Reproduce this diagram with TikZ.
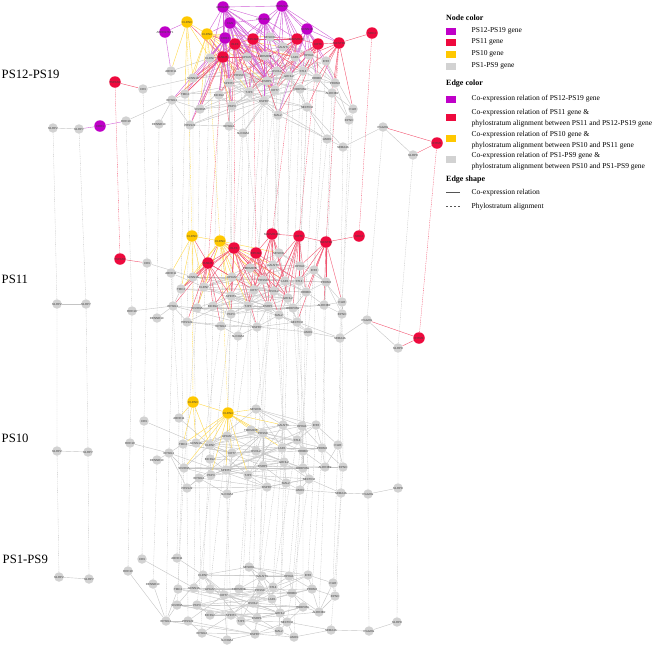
\documentclass[tikz,border=0pt]{standalone}
\usepackage{fontspec}
\setmainfont{Liberation Serif}
\newfontfamily\lblfont{Liberation Sans}
\usepackage{tikz}
\usetikzlibrary{backgrounds}
\definecolor{purpn}{HTML}{BF00C8}
\definecolor{redn}{HTML}{EE0A3E}
\definecolor{yelln}{HTML}{FFC800}
\definecolor{grayn}{HTML}{D2D2D2}
\definecolor{purpl}{HTML}{D060D6}
\definecolor{redl}{HTML}{F25470}
\definecolor{yelll}{HTML}{FFD84A}
\definecolor{grayl}{HTML}{C4C4C4}
\definecolor{legd}{HTML}{555555}
\tikzset{
  gn/.style={circle,fill=grayn,minimum size=9.5pt,inner sep=0pt,font=\lblfont\fontsize{2.9}{2.9}\selectfont,text=black!75},
  yn/.style={gn,fill=yelln,minimum size=11.5pt},
  rn/.style={gn,fill=redn,minimum size=11.5pt},
  pn/.style={gn,fill=purpn,minimum size=11.5pt},
  ge/.style={grayl,line width=0.4pt},
  ye/.style={yelll,line width=0.4pt},
  re/.style={redl,line width=0.4pt},
  pe/.style={purpl,line width=0.4pt},
  aln/.style={grayl,line width=0.35pt,dash pattern=on 1pt off 0.8pt},
  alny/.style={aln,yelll},
  alnr/.style={aln,redl},
  lay/.style={font=\fontsize{12.7}{14}\selectfont,anchor=west,inner sep=0pt},
  lg/.style={font=\fontsize{7.5}{11.5}\selectfont,anchor=west,inner sep=0pt,align=left},
  lgh/.style={anchor=west,inner sep=0pt,font=\fontsize{8}{10}\selectfont\bfseries},
  sw/.style={minimum width=10pt,minimum height=7pt,inner sep=0pt}
}
\newcommand{\nm}[1]{\makebox[0pt]{#1}}

\begin{document}
\begin{tikzpicture}[x=1pt,y=-1pt]
\useasboundingbox (0,0) rectangle (655,646);

% layer labels
\node[lay] (lab-d) at (1.5,74) {PS12-PS19};
\node[lay] (lab-c) at (1.5,279) {PS11};
\node[lay] (lab-b) at (1.5,438) {PS10};
\node[lay] (lab-a) at (2.5,559) {PS1-PS9};

% PS1-PS9
\foreach \n/\x/\y in {NLRP2/59/577, NLRP7/89/579, RDH10/128/571, CD9/142/559, ABHD11/177/558,
  DENND1C/153/584, EPS8L1/166/621, TMC4/178/589, SH2D3A/177/605, SCNN1A/194/588, CLDN7/203/575,
  AP1M2/210/589, PRSS22/188/621, PKP3/197/605, EPS8L2/202/633, BICDL2/210/615, KRT7/224/595,
  SPINT1/231/615, TMEM30B/239/589, MFSD6L/249/567, TJP3/241/621, SLC39A4/227/640, PRSS8/260/590,
  OVOL2/253/603, ESRP1/257/618, BSPRY/255/634, GALNT3/262/576, LAD1/272/599, ST14/273/587,
  GRHL2/280/613, MAL2/279/631, EPHA1/289/576, ERBB3/292/593, RBBP8NL/303/607, NECTIN4/287/622,
  ANO9/294/637, IRF6/308/575, PROM2/312/589, ALDH3B2/319/612, F11R/333/583, EPN3/335/596,
  SEMA4A/331/630, PGGHG/369/631, NLRP8/397/622}
  \node[gn] (a-\n) at (\x,\y) {\nm{\n}};

% PS10
\foreach \n/\x/\y in {NLRP2/57/451, NLRP7/88/452, RDH10/130/443, CD9/144/421, ABHD11/179/418,
  DENND1C/157/460, EPS8L1/169/453, TMC4/183/444, SH2D3A/184/468, SCNN1A/196/443, CLDN7/210/445,
  AP1M2/227/436, PRSS22/187/488, PKP3/211/475, EPS8L2/199/478, BICDL2/210/459, KRT7/232/453,
  SPINT1/226/470, TMEM30B/251/430, MFSD6L/256/409, TJP3/248/475, SLC39A4/227/494, PRSS8/263/433,
  OVOL2/256/451, ESRP1/263/466, BSPRY/267/487, GALNT3/283/425, LAD1/282/448, ST14/297/440,
  GRHL2/284/462, MAL2/286/483, EPHA1/302/426, ERBB3/303/451, RBBP8NL/303/468, NECTIN4/309/479,
  ANO9/300/490, IRF6/316/425, PROM2/322/448, ALDH3B2/325/467, F11R/338/445, EPN3/343/467,
  SEMA4A/341/493, PGGHG/368/494, NLRP8/398/488}
  \node[gn] (b-\n) at (\x,\y) {\nm{\n}};
\node[yn] (b-CLDN3) at (193,402) {\nm{CLDN3}};
\node[yn] (b-CLDN4) at (228,413) {\nm{CLDN4}};

% PS11
\foreach \n/\x/\y in {NLRP2/57/304, NLRP7/86/304, RDH10/132/311, CD9/147/263, ABHD11/171/273,
  DENND1C/157/318, EPS8L1/173/306, TMC4/181/289, SH2D3A/197/308, SCNN1A/193/277, CLDN7/204/287,
  AP1M2/232/277, PRSS22/187/322, PKP3/231/314, EPS8L2/221/326, BICDL2/213/306, KRT7/254/290,
  SPINT1/231/296, TMEM30B/250/268, MFSD6L/279/253, TJP3/248/306, SLC39A4/238/336, PRSS8/263/280,
  OVOL2/274/291, ESRP1/268/306, BSPRY/257/327, GALNT3/273/265, LAD1/285/281, ST14/299/281,
  GRHL2/288/298, MAL2/279/315, EPHA1/300/266, ERBB3/306/292, RBBP8NL/293/308, NECTIN4/297/322,
  ANO9/308/332, IRF6/314/270, PROM2/326/282, ALDH3B2/324/305, F11R/342/302, EPN3/342/314,
  SEMA4A/340/338, PGGHG/367/320, NLRP8/398/348}
  \node[gn] (c-\n) at (\x,\y) {\nm{\n}};
\node[yn] (c-CLDN3) at (192,236) {\nm{CLDN3}};
\node[yn] (c-CLDN4) at (220,241) {\nm{CLDN4}};
\foreach \n/\x/\y in {ELF3/234/248, EPCAM/256/253, MARVELD3/272/234, KRT8/299/236, TACSTD2/326/242,
  SDC4/359/236, TSPAN1/120/259, RAB25/208/263, IFITM1/419/338}
  \node[rn] (c-\n) at (\x,\y) {\nm{\n}};

% PS12-PS19
\foreach \n/\x/\y in {NLRP2/53/128, NLRP7/79/129, RDH10/126/121, CD9/143/89, ABHD11/171/71,
  DENND1C/159/124, EPS8L1/172/100, TMC4/185/94, SH2D3A/200/109, SCNN1A/193/78, CLDN7/210/58,
  AP1M2/247/57, PRSS22/190/125, PKP3/232/106, EPS8L2/229/126, BICDL2/219/95, KRT7/275/90,
  SPINT1/229/83, TMEM30B/265/56, MFSD6L/270/37, TJP3/249/92, SLC39A4/243/133, PRSS8/239/75,
  OVOL2/277/71, ESRP1/267/81, BSPRY/264/101, GALNT3/283/47, LAD1/295/57, ST14/303/71,
  GRHL2/289/76, MAL2/278/115, EPHA1/309/55, ERBB3/317/78, RBBP8NL/300/89, NECTIN4/307/107,
  ANO9/327/139, IRF6/326/61, PROM2/335/83, ALDH3B2/332/93, F11R/353/109, EPN3/349/120,
  SEMA4A/343/147, PGGHG/383/127, NLRP8/413/155}
  \node[gn] (d-\n) at (\x,\y) {\nm{\n}};
\node[yn] (d-CLDN3) at (187,22) {\nm{CLDN3}};
\node[yn] (d-CLDN4) at (207,34) {\nm{CLDN4}};
\foreach \n/\x/\y in {ELF3/235/44, EPCAM/253/39, MARVELD3/297/39, KRT8/318/44, TACSTD2/339/43,
  SDC4/372/33, TSPAN1/115/82, RAB25/223/57, IFITM1/437/143}
  \node[rn] (d-\n) at (\x,\y) {\nm{\n}};
\foreach \n/\x/\y in {ARHGAP8/223/7, TMEM125/282/6, CGN/230/23, PPP1R14C/264/19, ABHD17AP1/165/32,
  CRB3/225/38, SCNN1B/307/29, CDH1/100/126}
  \node[pn] (d-\n) at (\x,\y) {\nm{\n}};

\begin{scope}[on background layer]
% phylostratum alignment
\foreach \g in {NLRP2,NLRP7,RDH10,CD9,ABHD11,DENND1C,EPS8L1,TMC4,SH2D3A,SCNN1A,CLDN7,AP1M2,
  PRSS22,PKP3,EPS8L2,BICDL2,KRT7,SPINT1,TMEM30B,MFSD6L,TJP3,SLC39A4,PRSS8,OVOL2,ESRP1,BSPRY,
  GALNT3,LAD1,ST14,GRHL2,MAL2,EPHA1,ERBB3,RBBP8NL,NECTIN4,ANO9,IRF6,PROM2,ALDH3B2,F11R,EPN3,
  SEMA4A,PGGHG,NLRP8}
  \draw[aln] (a-\g) -- (b-\g) -- (c-\g) -- (d-\g);
\foreach \g in {CLDN3,CLDN4}
  \draw[alny] (b-\g) -- (c-\g) -- (d-\g);
\foreach \g in {ELF3,EPCAM,MARVELD3,KRT8,TACSTD2,SDC4,TSPAN1,RAB25,IFITM1}
  \draw[alnr] (c-\g) -- (d-\g);

% co-expression, PS1-PS9 genes
\foreach \l in {a,b,c,d}{
\foreach \u/\v in {NLRP2/NLRP7, RDH10/EPS8L1, CD9/SCNN1A, ABHD11/CLDN7, DENND1C/EPS8L1,
  EPS8L1/TMC4, EPS8L1/SH2D3A, EPS8L1/PRSS22, EPS8L1/BSPRY, TMC4/SCNN1A, TMC4/KRT7, TMC4/GRHL2,
  SH2D3A/PKP3, SH2D3A/SPINT1, SH2D3A/ESRP1, SH2D3A/CLDN7, SCNN1A/AP1M2, SCNN1A/PRSS8,
  SCNN1A/OVOL2, SCNN1A/LAD1, CLDN7/AP1M2, CLDN7/MFSD6L, CLDN7/GALNT3, CLDN7/EPHA1, CLDN7/KRT7,
  CLDN7/ESRP1, CLDN7/TJP3, AP1M2/TMEM30B, AP1M2/KRT7, AP1M2/ST14, AP1M2/GRHL2, PRSS22/EPS8L2,
  PRSS22/BSPRY, PRSS22/KRT7, PKP3/BICDL2, PKP3/ESRP1, PKP3/LAD1, PKP3/RBBP8NL, EPS8L2/BSPRY,
  EPS8L2/SPINT1, BICDL2/SPINT1, BICDL2/OVOL2, BICDL2/GRHL2, KRT7/OVOL2, KRT7/PRSS8, KRT7/LAD1,
  KRT7/ERBB3, SPINT1/TJP3, SPINT1/ESRP1, SPINT1/ST14, SPINT1/PRSS8, SPINT1/GRHL2, SPINT1/MAL2,
  TMEM30B/PRSS8, TMEM30B/GALNT3, TMEM30B/ERBB3, MFSD6L/GALNT3, MFSD6L/EPHA1, MFSD6L/IRF6,
  MFSD6L/LAD1, TJP3/ESRP1, TJP3/BSPRY, TJP3/NECTIN4, PRSS8/ST14, PRSS8/OVOL2, PRSS8/ESRP1,
  PRSS8/PROM2, OVOL2/LAD1, OVOL2/GRHL2, OVOL2/RBBP8NL, OVOL2/IRF6, ESRP1/GRHL2, ESRP1/MAL2,
  ESRP1/BSPRY, ESRP1/RBBP8NL, ESRP1/ALDH3B2, BSPRY/MAL2, BSPRY/NECTIN4, BSPRY/ANO9,
  GALNT3/EPHA1, GALNT3/ST14, GALNT3/LAD1, LAD1/ST14, LAD1/ERBB3, LAD1/GRHL2, LAD1/PROM2,
  ST14/ERBB3, ST14/IRF6, ST14/EPHA1, GRHL2/RBBP8NL, GRHL2/NECTIN4, GRHL2/MAL2, MAL2/NECTIN4,
  MAL2/ANO9, EPHA1/IRF6, EPHA1/ERBB3, EPHA1/PROM2, ERBB3/RBBP8NL, ERBB3/PROM2, ERBB3/ALDH3B2,
  RBBP8NL/NECTIN4, RBBP8NL/ALDH3B2, NECTIN4/ANO9, NECTIN4/SEMA4A, IRF6/PROM2, IRF6/F11R,
  PROM2/ALDH3B2, PROM2/EPN3, ALDH3B2/F11R, ALDH3B2/EPN3, F11R/EPN3, ANO9/SEMA4A, SEMA4A/PGGHG,
  PGGHG/NLRP8, SLC39A4/BSPRY, SLC39A4/EPS8L2, SLC39A4/KRT7, TJP3/GALNT3, PKP3/ST14,
  SH2D3A/RBBP8NL}
  \draw[ge] (\l-\u) -- (\l-\v);
}

% co-expression, PS10 genes
\foreach \l in {b,c,d}{
\foreach \u/\v in {CLDN3/CLDN4, CLDN3/ABHD11, CLDN3/SCNN1A, CLDN3/TMC4, CLDN3/CLDN7,
  CLDN4/MFSD6L, CLDN4/AP1M2, CLDN4/SCNN1A, CLDN4/TMC4, CLDN4/KRT7, CLDN4/PRSS8, CLDN4/TMEM30B,
  CLDN4/SPINT1, CLDN4/GALNT3, CLDN4/CLDN7, CLDN4/SH2D3A, CLDN4/PKP3, CLDN4/TJP3, CLDN4/LAD1}
  \draw[ye] (\l-\u) -- (\l-\v);
}

% co-expression, PS11 genes
\foreach \l in {c,d}{
\foreach \u/\v in {ELF3/CLDN7, ELF3/AP1M2, ELF3/KRT7, ELF3/SPINT1, ELF3/TJP3, ELF3/ESRP1,
  ELF3/PRSS8, ELF3/OVOL2, ELF3/GRHL2, ELF3/LAD1, ELF3/SCNN1A, ELF3/TMC4, ELF3/EPCAM, ELF3/RAB25,
  ELF3/BSPRY, ELF3/PKP3, ELF3/CLDN4, EPCAM/TMEM30B, EPCAM/PRSS8, EPCAM/KRT7, EPCAM/ESRP1,
  EPCAM/GRHL2, EPCAM/OVOL2, EPCAM/SPINT1, EPCAM/ST14, EPCAM/MAL2, EPCAM/MARVELD3, EPCAM/TJP3,
  EPCAM/BICDL2, MARVELD3/MFSD6L, MARVELD3/GALNT3, MARVELD3/ESRP1, MARVELD3/TJP3, MARVELD3/OVOL2,
  MARVELD3/PRSS8, MARVELD3/LAD1, MARVELD3/KRT8, MARVELD3/KRT7, MARVELD3/GRHL2, KRT8/EPHA1,
  KRT8/LAD1, KRT8/ST14, KRT8/ERBB3, KRT8/KRT7, KRT8/GRHL2, KRT8/OVOL2, KRT8/TACSTD2,
  KRT8/RBBP8NL, KRT8/ESRP1, KRT8/MAL2, TACSTD2/PROM2, TACSTD2/IRF6, TACSTD2/ERBB3,
  TACSTD2/ALDH3B2, TACSTD2/ST14, TACSTD2/EPHA1, TACSTD2/SDC4, TACSTD2/NECTIN4, TACSTD2/F11R,
  TSPAN1/CD9, RAB25/CLDN7, RAB25/SCNN1A, RAB25/TMC4, RAB25/AP1M2, RAB25/KRT7, RAB25/SPINT1,
  RAB25/BICDL2, RAB25/PKP3, RAB25/SH2D3A, RAB25/EPS8L1, RAB25/EPS8L2, RAB25/PRSS22, RAB25/CLDN3,
  RAB25/CLDN4, IFITM1/PGGHG, IFITM1/NLRP8}
  \draw[re] (\l-\u) -- (\l-\v);
}

% co-expression, PS12-PS19 genes
\foreach \u/\v in {ARHGAP8/CGN, ARHGAP8/CRB3, ARHGAP8/PPP1R14C, ARHGAP8/ELF3, ARHGAP8/EPCAM,
  ARHGAP8/CLDN7, ARHGAP8/AP1M2, ARHGAP8/MFSD6L, ARHGAP8/TMEM30B, ARHGAP8/KRT7, ARHGAP8/PRSS8,
  ARHGAP8/SPINT1, ARHGAP8/OVOL2, ARHGAP8/LAD1, ARHGAP8/RAB25, ARHGAP8/TMEM125, ARHGAP8/CLDN4,
  ARHGAP8/ESRP1, ARHGAP8/GRHL2, TMEM125/PPP1R14C, TMEM125/MFSD6L, TMEM125/GALNT3,
  TMEM125/MARVELD3, TMEM125/SCNN1B, TMEM125/EPHA1, TMEM125/KRT8, TMEM125/ST14, TMEM125/OVOL2,
  TMEM125/LAD1, TMEM125/TACSTD2, TMEM125/EPCAM, TMEM125/TMEM30B, CGN/CRB3, CGN/PPP1R14C,
  CGN/ELF3, CGN/EPCAM, CGN/AP1M2, CGN/TMEM30B, CGN/PRSS8, CGN/KRT7, CGN/SPINT1, CGN/RAB25,
  CGN/OVOL2, CGN/TJP3, CGN/CLDN4, CGN/BICDL2, CGN/ESRP1, PPP1R14C/MFSD6L, PPP1R14C/GALNT3,
  PPP1R14C/MARVELD3, PPP1R14C/TMEM30B, PPP1R14C/AP1M2, PPP1R14C/LAD1, PPP1R14C/OVOL2,
  PPP1R14C/ESRP1, PPP1R14C/GRHL2, PPP1R14C/KRT7, PPP1R14C/EPCAM, PPP1R14C/ELF3, PPP1R14C/BSPRY,
  PPP1R14C/TJP3, ABHD17AP1/ABHD11, ABHD17AP1/CLDN3, CRB3/CLDN7, CRB3/SCNN1A, CRB3/TMC4,
  CRB3/AP1M2, CRB3/KRT7, CRB3/SPINT1, CRB3/BICDL2, CRB3/RAB25, CRB3/PKP3, CRB3/SH2D3A,
  CRB3/EPS8L1, CRB3/ELF3, CRB3/PRSS22, SCNN1B/TACSTD2, SCNN1B/KRT8, SCNN1B/IRF6, SCNN1B/EPHA1,
  SCNN1B/ERBB3, SCNN1B/PROM2, SCNN1B/LAD1, SCNN1B/MARVELD3, SCNN1B/ST14, SCNN1B/GRHL2,
  SCNN1B/MAL2, CDH1/NLRP7, CDH1/RDH10}
  \draw[pe] (d-\u) -- (d-\v);
\end{scope}

% legend
\node[lgh] (k-node) at (446,17.3) {Node color};
\node[sw,fill=purpn] (k-p) at (451,31) {};
\node[lg] (k-pt) at (471.5,30.7) {PS12-PS19 gene};
\node[sw,fill=redn] (k-r) at (451,42.3) {};
\node[lg] (k-rt) at (471.5,42) {PS11 gene};
\node[sw,fill=yelln] (k-y) at (451,54) {};
\node[lg] (k-yt) at (471.5,54) {PS10 gene};
\node[sw,fill=grayn] (k-g) at (451,66) {};
\node[lg] (k-gt) at (471.5,66) {PS1-PS9 gene};
\node[lgh] (k-edge) at (446,83.3) {Edge color};
\node[sw,fill=purpn] (k-pe) at (451,99) {};
\node[lg] (k-pet) at (471.5,98.7) {Co-expression relation of PS12-PS19 gene};
\node[sw,fill=redn] (k-re) at (451,117.3) {};
\node[lg] (k-ret) at (471.5,118) {Co-expression relation of PS11 gene \&\\phylostratum alignment between PS11 and PS12-PS19 gene};
\node[sw,fill=yelln] (k-ye) at (451,138.2) {};
\node[lg] (k-yet) at (471.5,140.3) {Co-expression relation of PS10 gene \&\\phylostratum alignment between PS10 and PS11 gene};
\node[sw,fill=grayn] (k-ge) at (451,159.7) {};
\node[lg] (k-get) at (471.5,161) {Co-expression relation of PS1-PS9 gene \&\\phylostratum alignment between PS10 and PS1-PS9 gene};
\node[lgh] (k-shape) at (446,180) {Edge shape};
\draw[legd,line width=0.6pt] (446,192.7) -- (460,192.7);
\node[lg] (k-co) at (471.5,192.7) {Co-expression relation};
\draw[legd,line width=0.6pt,dash pattern=on 2pt off 2pt] (446,206.7) -- (460,206.7);
\node[lg] (k-al) at (471.5,206.7) {Phylostratum alignment};
\end{tikzpicture}
\end{document}
